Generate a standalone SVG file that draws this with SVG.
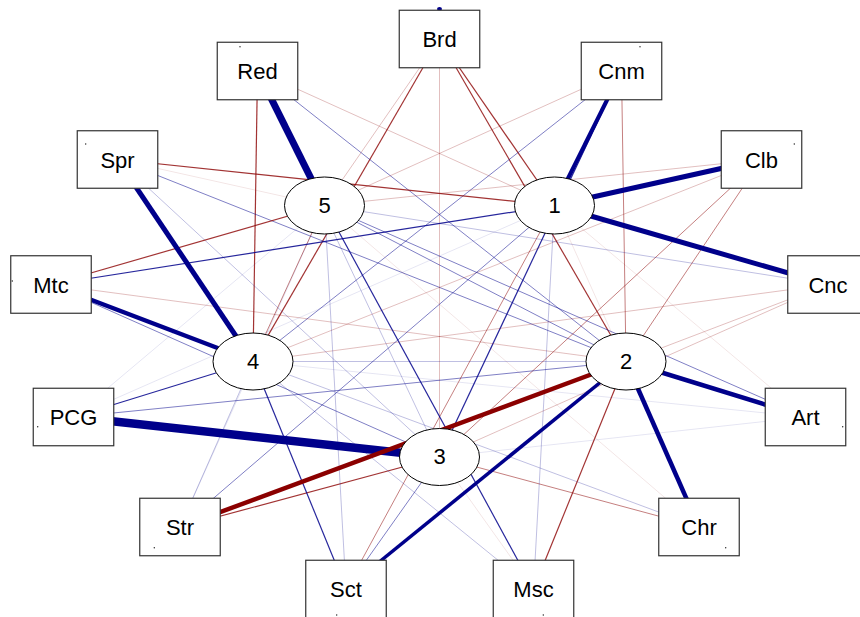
<svg xmlns="http://www.w3.org/2000/svg" width="860" height="617" viewBox="0 0 860 617">
<style>
  line{fill:none}
  .p1{stroke:#00008b;stroke-opacity:.85;stroke-width:1.2}
  .p2{stroke:#00008b;stroke-opacity:.5;stroke-width:1}
  .p3{stroke:#00008b;stroke-opacity:.25;stroke-width:1}
  .p4{stroke:#00008b;stroke-opacity:.1;stroke-width:1}
  .n1{stroke:#8b0000;stroke-opacity:.8;stroke-width:1.2}
  .n2{stroke:#8b0000;stroke-opacity:.5;stroke-width:1}
  .n3{stroke:#8b0000;stroke-opacity:.25;stroke-width:1}
  .n4{stroke:#8b0000;stroke-opacity:.1;stroke-width:1}
  .pt{stroke:#00008b}
  .nt{stroke:#8b0000}
  .box rect{fill:#fff;stroke:#333;stroke-width:1.2}
  .fac ellipse{fill:#fff;stroke:#000;stroke-width:1}
  text{font-family:"Liberation Sans",Arial,sans-serif;font-size:22px;fill:#000;text-anchor:middle}
  .dot{fill:#222}
</style>
<g id="connectors">
  <!-- factor-to-factor -->
  <line class="p3" x1="253" y1="361.5" x2="626" y2="361.5"/>
  <line class="n2" x1="324.5" y1="205.5" x2="253" y2="361.5"/>
  <line class="p2" x1="324.5" y1="205.5" x2="626" y2="361.5"/>
  <!-- Brd -->
  <line class="n3" x1="439.5" y1="39" x2="324.5" y2="205.5"/>
  <line class="n1" x1="439.5" y1="39" x2="554.5" y2="205.5"/>
  <line class="n1" x1="439.5" y1="39" x2="253" y2="361.5"/>
  <line class="n1" x1="439.5" y1="39" x2="626" y2="361.5"/>
  <line class="n3" x1="439.5" y1="39" x2="439.5" y2="457"/>
  <!-- Red -->
  <line class="n3" x1="257.5" y1="71" x2="554.5" y2="205.5"/>
  <line class="n1" x1="257.5" y1="71" x2="253" y2="361.5"/>
  <line class="p2" x1="257.5" y1="71" x2="626" y2="361.5"/>
  <line class="p3" x1="257.5" y1="71" x2="439.5" y2="457"/>
  <!-- Cnm -->
  <line class="n3" x1="621.5" y1="71" x2="324.5" y2="205.5"/>
  <line class="p2" x1="621.5" y1="71" x2="253" y2="361.5"/>
  <line class="n2" x1="621.5" y1="71" x2="626" y2="361.5"/>
  <line class="p1" x1="621.5" y1="71" x2="439.5" y2="457"/>
  <!-- Spr -->
  <line class="n4" x1="117.5" y1="159.5" x2="324.5" y2="205.5"/>
  <line class="n1" x1="117.5" y1="159.5" x2="554.5" y2="205.5"/>
  <line class="p2" x1="117.5" y1="159.5" x2="626" y2="361.5"/>
  <line class="p3" x1="117.5" y1="159.5" x2="439.5" y2="457"/>
  <!-- Clb -->
  <line class="n3" x1="761.5" y1="159.5" x2="324.5" y2="205.5"/>
  <line class="n3" x1="761.5" y1="159.5" x2="253" y2="361.5"/>
  <line class="n2" x1="761.5" y1="159.5" x2="626" y2="361.5"/>
  <line class="n2" x1="761.5" y1="159.5" x2="439.5" y2="457"/>
  <!-- Mtc -->
  <line class="n1" x1="51" y1="284.5" x2="324.5" y2="205.5"/>
  <line class="p1" x1="51" y1="284.5" x2="554.5" y2="205.5"/>
  <line class="n3" x1="51" y1="284.5" x2="626" y2="361.5"/>
  <line class="p2" x1="51" y1="284.5" x2="439.5" y2="457"/>
  <!-- Cnc -->
  <line class="p3" x1="828" y1="284.5" x2="324.5" y2="205.5"/>
  <line class="n3" x1="828" y1="284.5" x2="253" y2="361.5"/>
  <line class="n3" x1="828" y1="284.5" x2="626" y2="361.5"/>
  <line class="n3" x1="828" y1="284.5" x2="439.5" y2="457"/>
  <!-- PCG -->
  <line class="p4" x1="73.5" y1="417" x2="324.5" y2="205.5"/>
  <line class="p4" x1="73.5" y1="417" x2="554.5" y2="205.5" stroke-opacity=".05"/>
  <line class="p1" x1="73.5" y1="417" x2="253" y2="361.5"/>
  <line class="p2" x1="73.5" y1="417" x2="626" y2="361.5"/>
  <!-- Art -->
  <line class="p2" x1="805.5" y1="417" x2="324.5" y2="205.5"/>
  <line class="n4" x1="805.5" y1="417" x2="554.5" y2="205.5"/>
  <line class="p4" x1="805.5" y1="417" x2="253" y2="361.5"/>
  <line class="p4" x1="805.5" y1="417" x2="439.5" y2="457"/>
  <!-- Str -->
  <line class="p4" x1="180" y1="527" x2="324.5" y2="205.5"/>
  <line class="p2" x1="180" y1="527" x2="554.5" y2="205.5"/>
  <line class="p3" x1="180" y1="527" x2="253" y2="361.5"/>
  <line class="n1" x1="180" y1="527" x2="439.5" y2="457"/>
  <!-- Chr -->
  <line class="n4" x1="699" y1="527" x2="324.5" y2="205.5"/>
  <line class="n4" x1="699" y1="527" x2="554.5" y2="205.5"/>
  <line class="p3" x1="699" y1="527" x2="253" y2="361.5"/>
  <line class="n2" x1="699" y1="527" x2="439.5" y2="457"/>
  <!-- Sct -->
  <line class="p3" x1="346" y1="589" x2="324.5" y2="205.5"/>
  <line class="n2" x1="346" y1="589" x2="554.5" y2="205.5"/>
  <line class="p1" x1="346" y1="589" x2="253" y2="361.5"/>
  <line class="p2" x1="346" y1="589" x2="439.5" y2="457"/>
  <!-- Msc -->
  <line class="p1" x1="533.5" y1="589" x2="324.5" y2="205.5"/>
  <line class="p3" x1="533.5" y1="589" x2="554.5" y2="205.5"/>
  <line class="p3" x1="533.5" y1="589" x2="253" y2="361.5"/>
  <line class="n4" x1="533.5" y1="589" x2="439.5" y2="457"/>
  <line class="n1" x1="533.5" y1="589" x2="626" y2="361.5" stroke-width="1.5"/>
  <!-- main loadings -->
  <line class="pt" x1="257.5" y1="71" x2="324.5" y2="205.5" stroke-width="7"/>
  <line class="pt" x1="621.5" y1="71" x2="554.5" y2="205.5" stroke-width="4"/>
  <line class="pt" x1="761.5" y1="159.5" x2="554.5" y2="205.5" stroke-width="5"/>
  <line class="pt" x1="828" y1="284.5" x2="554.5" y2="205.5" stroke-width="5"/>
  <line class="pt" x1="117.5" y1="159.5" x2="253" y2="361.5" stroke-width="5"/>
  <line class="pt" x1="51" y1="284.5" x2="253" y2="361.5" stroke-width="4.5"/>
  <line class="pt" x1="73.5" y1="417" x2="439.5" y2="457" stroke-width="8.5"/>
  <line class="nt" x1="180" y1="527" x2="626" y2="361.5" stroke-width="4.5"/>
  <line class="pt" x1="805.5" y1="417" x2="626" y2="361.5" stroke-width="4.5"/>
  <line class="pt" x1="699" y1="527" x2="626" y2="361.5" stroke-width="4.5"/>
  <line class="pt" x1="346" y1="589" x2="626" y2="361.5" stroke-width="3.5"/>
</g>
<g id="Brd" class="box"><ellipse cx="439.5" cy="9" rx="2.5" ry="2" fill="#00008b"/><rect x="399.25" y="10.25" width="80.5" height="57.5"/><text x="439.5" y="47">Brd</text></g>
<g id="Red" class="box"><rect x="217.25" y="42.25" width="80.5" height="57.5"/><text x="257.5" y="79">Red</text><circle class="dot" cx="240" cy="46.7" r="0.7"/></g>
<g id="Cnm" class="box"><rect x="581.25" y="42.25" width="80.5" height="57.5"/><text x="621.5" y="79">Cnm</text><circle class="dot" cx="640" cy="46.7" r="0.7"/></g>
<g id="Spr" class="box"><rect x="77.25" y="130.75" width="80.5" height="57.5"/><text x="117.5" y="167.5">Spr</text><circle class="dot" cx="85.7" cy="144" r="0.7"/></g>
<g id="Clb" class="box"><rect x="721.25" y="130.75" width="80.5" height="57.5"/><text x="761.5" y="167.5">Clb</text><circle class="dot" cx="794.3" cy="144" r="0.7"/></g>
<g id="Mtc" class="box"><rect x="10.75" y="255.75" width="80.5" height="57.5"/><text x="51" y="292.5">Mtc</text><circle class="dot" cx="12.3" cy="281" r="0.7"/></g>
<g id="Cnc" class="box"><rect x="787.75" y="255.75" width="80.5" height="57.5"/><text x="828" y="292.5">Cnc</text></g>
<g id="PCG" class="box"><rect x="33.25" y="388.25" width="80.5" height="57.5"/><text x="73.5" y="425">PCG</text><circle class="dot" cx="37.7" cy="426.7" r="0.7"/></g>
<g id="Art" class="box"><rect x="765.25" y="388.25" width="80.5" height="57.5"/><text x="805.5" y="425">Art</text><circle class="dot" cx="842.7" cy="426.7" r="0.7"/></g>
<g id="Str" class="box"><rect x="139.75" y="498.25" width="80.5" height="57.5"/><text x="180" y="535">Str</text><circle class="dot" cx="154.3" cy="547.7" r="0.7"/></g>
<g id="Chr" class="box"><rect x="658.75" y="498.25" width="80.5" height="57.5"/><text x="699" y="535">Chr</text><circle class="dot" cx="725.7" cy="547.7" r="0.7"/></g>
<g id="Sct" class="box"><rect x="305.75" y="560.25" width="80.5" height="57.5"/><text x="346" y="597">Sct</text><circle class="dot" cx="336.7" cy="615" r="0.7"/></g>
<g id="Msc" class="box"><rect x="493.25" y="560.25" width="80.5" height="57.5"/><text x="533.5" y="597">Msc</text><circle class="dot" cx="543.3" cy="615" r="0.7"/></g>
<g id="F5" class="fac"><ellipse cx="324.5" cy="205.5" rx="40" ry="28.5"/><text x="324.5" y="212.5">5</text></g>
<g id="F1" class="fac"><ellipse cx="554.5" cy="205.5" rx="40" ry="28.5"/><text x="554.5" y="212.5">1</text></g>
<g id="F4" class="fac"><ellipse cx="253" cy="361.5" rx="40" ry="28.5"/><text x="253" y="368.5">4</text></g>
<g id="F2" class="fac"><ellipse cx="626" cy="361.5" rx="40" ry="28.5"/><text x="626" y="368.5">2</text></g>
<g id="F3" class="fac"><ellipse cx="439.5" cy="457" rx="40" ry="28.5"/><text x="439.5" y="464">3</text></g>
</svg>
